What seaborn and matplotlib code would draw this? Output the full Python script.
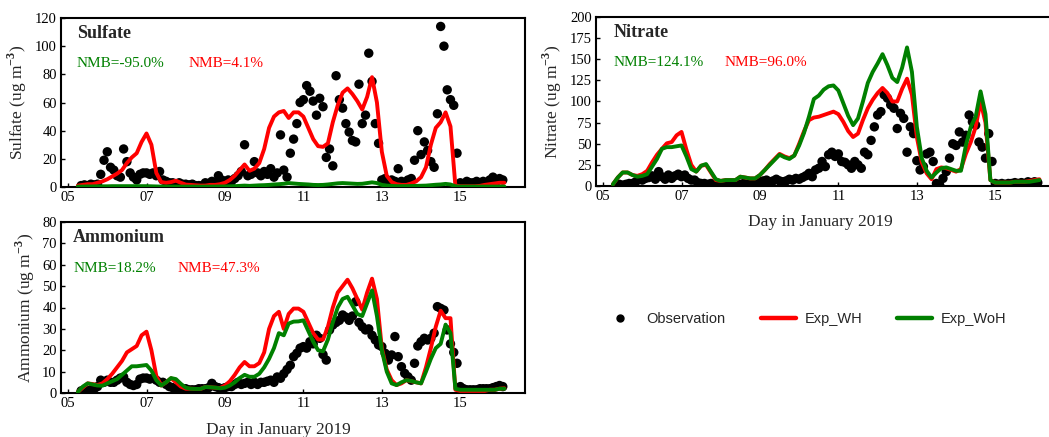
import numpy as np
import matplotlib
matplotlib.use("Agg")
import matplotlib.pyplot as plt
import seaborn as sns
from matplotlib.lines import Line2D

# ---------------- data ----------------
# observation times: every 2 h from Jan 05 08:00 ; model times: every 3 h from Jan 05 06:00
obs_time = 5 + 4 / 12 + np.arange(130) / 12
mod_time = 5.25 + 0.125 * np.arange(88)

xtick_days = [5, 7, 9, 11, 13, 15]
xtick_labels = ["05", "07", "09", "11", "13", "15"]

sulfate_obs = [
    1, 1.5, 1, 2, 1.5, 2, 9, 19,                      # 05
    25, 14, 12, 8, 7, 27, 18, 10, 7, 5, 9, 10,        # 06
    10, 9, 10, 8, 11, 5, 4, 3, 3, 2, 3, 2,            # 07
    2, 1.5, 2, 1, 1, 1, 3, 2.5, 4, 3, 8, 5,           # 08
    4, 5, 4, 6, 8, 11, 30, 8, 9, 18, 10, 8,           # 09
    11, 9, 13, 7, 10, 37, 12, 7, 24, 34, 45, 60,      # 10
    62, 72, 68, 61, 51, 63, 57, 21, 27, 15, 79, 62,   # 11
    56, 45, 39, 33, 32, 73, 45, 51, 95, 75, 45, 31,   # 12
    5, 6, 4, 5, 4, 13, 4, 3, 5, 6, 19, 40,            # 13
    23, 32, 26, 18, 14, 52, 114, 100, 69, 62, 58, 24, # 14
    3, 2, 4, 3, 3, 4, 3, 4, 3, 5, 7, 4,               # 15
    6, 5,                                             # 16
]
sulfate_wh = [
    1, 1.5, 2, 2, 3, 4,
    5.5, 7.5, 9.5, 12, 17, 21, 24, 32,
    38, 30, 10, 3.5, 3, 3.5, 4.5, 3,
    1.7, 1.5, 1.2, 1, 1, 1.5, 1.5, 2,
    3, 5, 8, 12, 16, 11.5, 13, 17,
    27, 42, 50, 53, 54, 49, 53, 53,
    50, 42, 34, 29, 28.5, 31, 46, 58,
    67, 70, 66, 61, 55, 64, 78, 60,
    25, 8, 3.5, 2, 1.5, 1.5, 2.5, 4,
    7, 14, 30, 42, 46, 53, 43, 1,
    0.5, 0.5, 0.5, 0.5, 0.8, 1.5, 2, 2.5,
    3, 3,
]
sulfate_woh = [
    0.3, 0.3, 0.4, 0.4, 0.5, 0.5,
    0.5, 0.6, 0.6, 0.6, 0.6, 0.6, 0.6, 0.6,
    0.6, 0.5, 0.4, 0.3, 0.3, 0.3, 0.3, 0.3,
    0.3, 0.3, 0.3, 0.3, 0.3, 0.3, 0.3, 0.4,
    0.4, 0.5, 0.6, 0.8, 1.0, 0.8, 1.0, 1.2,
    1.3, 1.5, 1.8, 2.0, 2.3, 2.8, 2.5, 2.2,
    2.0, 1.8, 1.5, 1.4, 1.5, 1.8, 2.2, 2.6,
    2.8, 2.6, 2.4, 2.2, 2.3, 2.8, 3.3, 2.8,
    1.5, 1.0, 0.8, 0.6, 0.6, 0.6, 0.7, 0.8,
    0.9, 1.0, 1.3, 1.6, 1.8, 2.2, 1.8, 0.5,
    0.3, 0.3, 0.3, 0.3, 0.3, 0.3, 0.3, 0.3,
    0.3, 0.3,
]

nitrate_obs = [
    1, 2, 1, 2, 3, 3, 5, 8,
    7, 9, 10, 12, 8, 17, 11, 8, 13, 9, 12, 14,
    11, 13, 9, 7, 7, 4, 3, 3, 2, 3, 2, 2,
    2, 1, 2, 1, 1, 2, 2, 3, 2, 3, 4, 5,
    5, 6, 7, 5, 6, 8, 6, 5, 6, 8, 7, 9,
    8, 10, 12, 15, 11, 19, 21, 29, 23, 37, 40, 35,
    38, 29, 28, 25, 21, 29, 25, 21, 40, 37, 54, 70,
    84, 88, 108, 104, 96, 92, 68, 86, 80, 40, 70, 62,
    30, 19, 23, 38, 40, 29, 3, 1, 9, 17, 33, 50,
    48, 64, 52, 60, 84, 76, 72, 52, 46, 33, 62, 29,
    3, 2, 3, 2, 3, 3, 4, 3, 4, 3, 5, 4,
    5, 4,
]
nitrate_wh = [
    2, 10, 16, 16, 13, 12,
    14, 18, 28, 37, 44, 50.5, 52, 60,
    64, 43, 25, 17, 24, 25, 16, 7,
    6, 7, 7, 7, 11, 10, 9, 9,
    13, 19, 26, 32, 38, 35, 33, 36,
    50, 65, 78, 81, 82, 84, 86, 88,
    85, 76, 65, 58, 62, 78, 92, 102,
    110, 116, 110, 100, 100, 115, 127, 108,
    58, 28, 15, 8, 20, 22, 21, 19,
    17, 20, 38, 52, 70, 100, 75, 7,
    4, 4, 4, 4, 5, 5, 5, 6,
    7, 8,
]
nitrate_woh = [
    2, 10, 16, 16, 13, 11,
    12, 14, 23, 32, 44, 46, 46, 47,
    48, 35, 20, 17, 24, 26, 17, 8,
    6, 7, 7, 7, 11, 10, 9, 9,
    13, 19, 25, 31, 37, 34, 32, 36,
    48, 63, 82, 103, 107, 114, 118, 119,
    113, 98, 83, 72, 80, 100, 122, 135,
    145, 156, 143, 128, 123, 140, 164, 135,
    70, 33, 18, 10, 16, 21, 22, 20,
    18, 18, 48, 70, 82, 112, 85, 7,
    4, 4, 4, 4, 5, 5, 5, 5,
    6, 7,
]

ammonium_obs = [
    1, 1, 1, 1.5, 2, 3, 6, 5,
    6, 5, 5, 6, 7, 7.5, 5, 4, 3.5, 4, 6.5, 7,
    7, 6.5, 7, 6, 5, 5, 4, 3, 2.5, 2, 2.5, 2,
    2, 1.5, 1.5, 1.5, 2, 2, 2, 2.5, 4.5, 3, 2.5, 2,
    2.5, 3, 3, 4, 5, 4, 4.5, 5, 4, 5, 4, 5,
    5, 5.5, 6, 5, 7.5, 6.9, 9, 11, 13, 17, 18.6, 21,
    21.7, 21, 24, 23, 27, 25.6, 18, 15.4, 29.5, 31.8, 33, 34,
    36.5, 35.5, 34, 36, 42.7, 33, 31, 29.5, 30, 27, 24.8, 22.5,
    21.7, 18.6, 15.4, 17.8, 26.4, 17, 12.3, 9.2, 7.6, 6, 13.9, 22,
    24, 25.6, 24.8, 25.6, 28, 40.4, 39.6, 38.8, 29.5, 23, 19, 13.9,
    3, 2, 1.5, 1.5, 1.5, 1.5, 2, 2, 2, 2, 2.5, 3,
    3.5, 3,
]
ammonium_wh = [
    0.5, 2.5, 4.5, 4.2, 3.7, 4.5,
    6.5, 9, 12, 15, 19, 20.5, 22, 27,
    28.7, 20, 8, 3.5, 5, 6.9, 5, 3,
    2, 2, 1.9, 1.9, 2.8, 2.7, 2.5, 2.3,
    3.5, 5.5, 8.5, 12, 14.5, 12.5, 12.5, 14,
    19, 30, 36, 38, 30, 37, 39.5, 39.5,
    38, 33, 28, 25, 25, 31, 40, 47,
    50, 53, 49, 44, 39, 47, 53.5, 44,
    21, 11, 6, 3.7, 4.5, 6, 5.5, 5,
    4.5, 12, 21, 31, 38.5, 35, 35, 1.5,
    1, 1, 1, 1, 1, 1, 1.5, 1.5,
    2, 2.2,
]
ammonium_woh = [
    0.5, 3, 4.5, 4, 3.5, 3.4,
    4.5, 5.5, 6.5, 8.5, 10.5, 12.5, 12.5, 12.8,
    13.1, 10.5, 6, 3.5, 5, 7, 6.5, 4.3,
    2.5, 2, 1.9, 1.9, 2.8, 2.7, 2.5, 2.2,
    2.5, 3.5, 5, 7, 8.5, 7.6, 7.6, 9,
    12, 16, 21, 28, 27, 32.5, 33.4, 33.5,
    34, 29, 24, 20, 19.5, 25, 33, 40,
    44, 45, 41, 37, 36, 42, 48, 36,
    20, 10, 4.5, 3.7, 5, 6, 5.6, 5,
    4.5, 10, 16, 21, 23, 32, 28, 2,
    1.5, 1.5, 1.5, 1.5, 1.5, 1.5, 1.5, 1.5,
    2, 2,
]

panels = [
    dict(name="Sulfate", obs=sulfate_obs, wh=sulfate_wh, woh=sulfate_woh,
         ymax=120, ystep=20, nmb_woh="NMB=-95.0%", nmb_wh="NMB=4.1%"),
    dict(name="Nitrate", obs=nitrate_obs, wh=nitrate_wh, woh=nitrate_woh,
         ymax=200, ystep=25, nmb_woh="NMB=124.1%", nmb_wh="NMB=96.0%"),
    dict(name="Ammonium", obs=ammonium_obs, wh=ammonium_wh, woh=ammonium_woh,
         ymax=80, ystep=10, nmb_woh="NMB=18.2%", nmb_wh="NMB=47.3%"),
]

# ---------------- style ----------------
sns.set_theme(style="white")
plt.rcParams["font.family"] = ["Liberation Serif", "DejaVu Serif"]
plt.rcParams["mathtext.fontset"] = "custom"
plt.rcParams["mathtext.rm"] = "Liberation Serif"
plt.rcParams["mathtext.bf"] = "Liberation Serif:bold"

W, H = 1049, 437
fig = plt.figure(figsize=(W / 100, H / 100), dpi=100)

# axes boxes in pixels: left, top, right, bottom
boxes = [(61, 18, 525, 187), (596, 17, 1060, 186), (61, 222, 525, 393)]
title_x = [0.034, 0.037, 0.026]
red_x = [0.274, 0.278, 0.252]
xlabels = [None, (0.483, -0.165), (0.468, -0.17)]

WH_COLOR = "#ff0000"
WOH_COLOR = "#008000"
line_kw = dict(lw=2.8, solid_joinstyle="round", solid_capstyle="round")

for p, box, tx, rx, xl in zip(panels, boxes, title_x, red_x, xlabels):
    l, t, r, b = box
    ax = fig.add_axes([l / W, 1 - b / H, (r - l) / W, (b - t) / H])
    sns.scatterplot(x=obs_time, y=p["obs"], ax=ax, color="black", s=46,
                    edgecolor="none", linewidth=0, zorder=2)
    sns.lineplot(x=mod_time, y=p["wh"], ax=ax, color=WH_COLOR, zorder=3, **line_kw)
    sns.lineplot(x=mod_time, y=p["woh"], ax=ax, color=WOH_COLOR, zorder=4, **line_kw)

    ax.set_xlim(4.82, 16.65)
    ax.set_ylim(0, p["ymax"])
    ax.set_yticks(np.arange(0, p["ymax"] + 1, p["ystep"]))
    ax.set_xticks(xtick_days)
    ax.set_xticklabels(xtick_labels)
    ax.tick_params(direction="in", length=3, width=1, labelsize=10.5, pad=3,
                   left=True, bottom=True, top=False, right=False, colors="black")
    for sp in ax.spines.values():
        sp.set_linewidth(1.5)
        sp.set_color("black")
    ax.set_ylabel(p["name"] + r" (ug m$^{\mathbf{-3}}$)", fontsize=12.5, labelpad=4)
    if xl is not None:
        ax.set_xlabel("Day in January 2019", fontsize=12.5)
        ax.xaxis.set_label_coords(*xl)
    else:
        ax.set_xlabel("")

    ax.text(tx, 0.91, p["name"], transform=ax.transAxes, fontsize=13,
            fontweight="bold", va="center", ha="left")
    ax.text(tx, 0.73, p["nmb_woh"], transform=ax.transAxes, fontsize=11,
            color=WOH_COLOR, va="center", ha="left")
    ax.text(rx, 0.73, p["nmb_wh"], transform=ax.transAxes, fontsize=11,
            color=WH_COLOR, va="center", ha="left")

handles = [
    Line2D([], [], marker="o", color="black", ls="none", markersize=5),
    Line2D([], [], color=WH_COLOR, lw=3.2),
    Line2D([], [], color=WOH_COLOR, lw=3.2),
]
fig.legend(handles, ["Observation", "Exp_WH", "Exp_WoH"], loc="center",
           bbox_to_anchor=(0.767, 0.27), ncol=3, frameon=False,
           prop={"family": "Liberation Sans", "size": 10.5},
           handlelength=2.4, handletextpad=0.6, columnspacing=2.4)

fig.savefig("out.png", dpi=100)
